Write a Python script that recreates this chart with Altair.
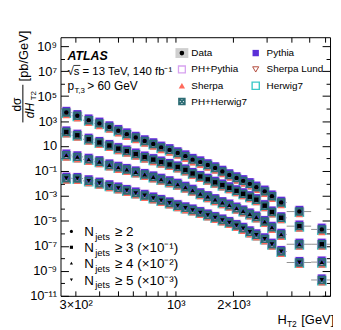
import altair as alt
import pandas as pd

FONT = "Liberation Sans"

# ---------------- data ----------------
ht_center = [268, 306, 351, 399, 450, 501, 555, 618, 688, 763, 839, 928, 1024, 1123,
             1225, 1343, 1470, 1606, 1752, 1905, 2078, 2250, 2438, 2637, 2916, 3181,
             3556, 4426, 5797]
ht_edges = [250, 286, 328, 374, 424, 475, 527, 586, 652, 725, 800, 882, 975, 1072,
            1173, 1282, 1405, 1536, 1677, 1827, 1990, 2162, 2342, 2536, 2773, 3046,
            3363, 3800, 5100, 6400]

xsec_ge2 = [4.79e3, 2.63e3, 1.17e3, 6.46e2, 3.31e2, 1.70e2, 89.1, 47.9, 25.1, 14.5,
            7.76, 4.90, 2.75, 1.55, 0.813, 0.513, 0.302, 0.174, 0.0912, 0.0479,
            0.0275, 0.0162, 9.33e-3, 4.90e-3, 2.34e-3, 9.55e-4, 3.02e-4, 5.62e-5, 2.09e-6]
xsec_ge3 = [1.32e3, 7.24e2, 3.47e2, 1.91e2, 1.10e2, 61.7, 38.9, 22.4, 12.9, 8.13,
            5.13, 3.31, 2.09, 1.20, 0.631, 0.363, 0.214, 0.123, 0.0741, 0.0447,
            0.0257, 0.0148, 8.71e-3, 5.01e-3, 1.66e-3, 5.13e-4, 1.78e-4, 3.80e-5, 1.35e-6]
xsec_ge4 = [186, 135, 85.1, 55.0, 30.2, 19.5, 13.2, 8.32, 5.25, 3.31,
            2.14, 1.35, 0.851, 0.490, 0.282, 0.148, 0.0871, 0.0501, 0.0288, 0.0182,
            0.0105, 6.17e-3, 3.55e-3, 2.04e-3, 8.91e-4, 3.02e-4, 8.32e-5, 1.35e-5, 5.01e-7]
xsec_ge5 = [26.3, 25.0, 16.2, 10.5, 6.46, 4.27, 2.75, 1.70, 1.10, 0.676,
            0.437, 0.275, 0.166, 0.110, 0.0741, 0.0468, 0.0295, 0.0186, 0.0117, 7.41e-3,
            4.27e-3, 2.51e-3, 1.32e-3, 7.59e-4, 3.63e-4, 1.35e-4, 3.55e-5, 4.68e-6, 1.86e-7]

series_names = ["ge2", "ge3", "ge4", "ge5"]
series_scale = [1, 0.1, 0.01, 0.001]
series_shapes = ["circle", "square", "triangle-up", "triangle-down"]
series_xsec = [xsec_ge2, xsec_ge3, xsec_ge4, xsec_ge5]

generators = ["Sherpa Lund", "Herwig7", "Sherpa", "PH+Pythia", "Pythia", "PH+Herwig7"]
mc_over_data = {
    "Pythia":      [1.45, 1.40, 1.40, 1.40],
    "PH+Pythia":   [1.25, 1.25, 1.25, 1.25],
    "Sherpa":      [0.62, 0.65, 0.65, 0.65],
    "Sherpa Lund": [0.80, 0.80, 0.80, 0.80],
    "Herwig7":     [0.88, 0.88, 0.88, 0.88],
    "PH+Herwig7":  [1.00, 1.00, 1.00, 1.00],
}

# ---------------- table ----------------
rows = []
for s, name in enumerate(series_names):
    for j, c in enumerate(ht_center):
        v = series_xsec[s][j] * series_scale[s]
        r = {"series": name, "ht": c, "lo": ht_edges[j], "hi": ht_edges[j + 1], "val": v}
        for g in generators:
            r[g] = v * mc_over_data[g][s]
        rows.append(r)
df = pd.DataFrame(rows)
one = pd.DataFrame({"a": [0]})

W, H = 272, 261
xs = alt.Scale(type="log", domain=[250, 6400], nice=False)
ys = alt.Scale(type="log", domain=[1e-11, 5.2e9], nice=False)

odd_dec = [10.0 ** k for k in range(9, -12, -2)]
even_dec = [10.0 ** k for k in range(8, -11, -2)]
x_ticks = [300, 400, 500, 600, 700, 800, 900, 1000, 2000, 3000, 4000, 5000, 6000]

ylab = ("{'9':'10⁹','7':'10⁷','5':'10⁵','3':'10³','1':'10','-1':'10⁻¹','-3':'10⁻³',"
        "'-5':'10⁻⁵','-7':'10⁻⁷','-9':'10⁻⁹','-11':'10⁻¹¹'}['' + round(log(datum.value)/LN10)]")
xlab = "datum.value == 300 ? '3×10²' : datum.value == 1000 ? '10³' : '2×10³'"


def tick_axis(orient, values, size):
    return alt.Axis(orient=orient, values=values, tickSize=size, offset=-size, labels=False,
                    domain=False, grid=False, title=None, tickColor="black", tickWidth=1)


x_label_axis = alt.Axis(orient="bottom", values=[300, 1000, 2000], labelExpr=xlab, ticks=False,
                        domain=False, grid=False, title=None, labelFont=FONT, labelFontSize=13,
                        labelColor="black", labelPadding=3, labelFlush=False, labelOverlap=False)
y_label_axis = alt.Axis(orient="left", values=odd_dec, labelExpr=ylab, ticks=False,
                        domain=False, grid=False, title=None, labelFont=FONT, labelFontSize=13,
                        labelColor="black", labelPadding=4, labelOverlap=False)

axes_for = {
    "Sherpa Lund": (tick_axis("bottom", x_ticks, 5), tick_axis("left", odd_dec, 8)),
    "Herwig7": (tick_axis("top", x_ticks, 5), tick_axis("left", even_dec, 4)),
    "Sherpa": (None, tick_axis("right", odd_dec, 8)),
    "PH+Pythia": (None, tick_axis("right", even_dec, 4)),
    "Pythia": (None, None),
    "PH+Herwig7": (None, None),
}

XBOX = "M-1,-1H1V1H-1Z M-1,-1L1,1 M-1,1L1,-1"
mc_style = {
    "Sherpa Lund": dict(shape="triangle-down", filled=False, color="#b34a3c", size=50, strokeWidth=1),
    "Herwig7": dict(shape="square", filled=False, color="#3cc8c8", size=70, strokeWidth=1.4),
    "Sherpa": dict(shape="triangle-up", filled=True, color="#ff6a5c", size=55),
    "PH+Pythia": dict(shape="square", filled=False, color="#d7a2f0", size=64, strokeWidth=1.3),
    "Pythia": dict(shape="square", filled=True, color="#5b2fd8", size=55),
    "PH+Herwig7": dict(shape=XBOX, filled=False, color="#2d6c74", size=46, strokeWidth=1.7),
}

layers = []
layers.append(
    alt.Chart(df).mark_rule(color="#909090", strokeWidth=1).encode(
        x=alt.X("lo:Q", scale=xs, axis=x_label_axis),
        x2="hi:Q",
        y=alt.Y("val:Q", scale=ys, axis=y_label_axis),
    )
)
for g in generators:
    xa, ya = axes_for[g]
    layers.append(
        alt.Chart(df).mark_point(opacity=1, **mc_style[g]).encode(
            x=alt.X("ht:Q", scale=xs, axis=xa),
            y=alt.Y(f"{g}:Q", scale=ys, axis=ya),
        )
    )
layers.append(
    alt.Chart(df).mark_point(filled=True, color="black", opacity=1, size=20).encode(
        x=alt.X("ht:Q", scale=xs, axis=None),
        y=alt.Y("val:Q", scale=ys, axis=None),
        shape=alt.Shape("series:N", scale=alt.Scale(domain=series_names, range=series_shapes),
                        legend=None),
    )
)


def txt(s, x, y, size=13, align="left", baseline="alphabetic", **kw):
    return alt.Chart(one).mark_text(text=s, font=FONT, fontSize=size, align=align,
                                    baseline=baseline, color="black", **kw).encode(
        x=alt.value(x), y=alt.value(y))


def sym(x, y, shape, filled, color, size, sw=1):
    return alt.Chart(one).mark_point(shape=shape, filled=filled, color=color, size=size,
                                     strokeWidth=sw, opacity=1).encode(
        x=alt.value(x), y=alt.value(y))


# ATLAS label block
layers += [
    txt("ATLAS", 7, 23, size=12.5, fontWeight="bold", fontStyle="italic"),
    txt("√s = 13 TeV, 140 fb⁻¹", 7, 38, size=11.5),
    alt.Chart(one).mark_rule(color="black", strokeWidth=0.8).encode(
        x=alt.value(13), x2=alt.value(20), y=alt.value(28.5)),
    txt("p", 7, 53, size=12),
    txt("T,3", 14, 56, size=8),
    txt("> 60 GeV", 27, 53, size=12),
]

# top-right legend
leg_entries = [("Data", 0, 0), ("Pythia", 1, 0), ("PH+Pythia", 0, 1), ("Sherpa Lund", 1, 1),
               ("Sherpa", 0, 2), ("Herwig7", 1, 2), ("PH+Herwig7", 0, 3)]
col_sym = [122.5, 197]
col_txt = [132, 208]
row_y = [16, 32.5, 49, 65]
for name, c, r in leg_entries:
    if name == "Data":
        layers.append(alt.Chart(one).mark_rect(color="#cfcfcf").encode(
            x=alt.value(col_sym[c] - 6.5), x2=alt.value(col_sym[c] + 6.5),
            y=alt.value(row_y[r] - 5), y2=alt.value(row_y[r] + 5)))
        layers.append(sym(col_sym[c], row_y[r], "circle", True, "black", 22))
    else:
        st = mc_style[name]
        layers.append(sym(col_sym[c], row_y[r], st["shape"], st["filled"], st["color"],
                          st["size"] * 0.75, st.get("strokeWidth", 1)))
    layers.append(txt(name, col_txt[c], row_y[r], size=10, baseline="middle"))

# bottom-left N_jets legend
nj_text = ["≥ 2", "≥ 3 (×10⁻¹)", "≥ 4 (×10⁻²)", "≥ 5 (×10⁻³)"]
nj_y = [196, 212, 228, 245]
for i in range(4):
    layers.append(sym(11, nj_y[i], series_shapes[i], True, "black", 10))
    layers.append(txt("N", 24, nj_y[i] + 5, size=13.5))
    layers.append(txt("jets", 35, nj_y[i] + 8.5, size=9.5))
    layers.append(txt(nj_text[i], 55, nj_y[i] + 5, size=13.5))

# x-axis title
layers += [
    txt("H", 219, 289, size=13),
    txt("T2", 228.5, 292, size=8.5),
    txt("[GeV]", 243, 289, size=13),
]

# y-axis title (rotated)
layers += [
    txt("[pb/GeV]", -37, 19, size=13, align="center", baseline="middle", angle=270),
    txt("dσ", -44, 68, size=12, align="center", baseline="middle", angle=270),
    alt.Chart(one).mark_rule(color="black", strokeWidth=1).encode(
        x=alt.value(-38), y=alt.value(48), y2=alt.value(86)),
    txt("dH", -31, 74, size=12, align="center", baseline="middle", angle=270, fontStyle="italic"),
    txt("T2", -27, 59, size=8, align="center", baseline="middle", angle=270),
]

chart = alt.layer(*layers).resolve_axis(x="independent", y="independent").properties(
    width=W, height=H,
    padding={"left": 53, "top": 28, "right": 3, "bottom": 32},
    autosize=alt.AutoSizeParams(type="none"),
    background="white",
).configure_view(stroke="black", strokeWidth=1)

chart.save("out.html", embed_options={"renderer": "svg", "actions": False})
